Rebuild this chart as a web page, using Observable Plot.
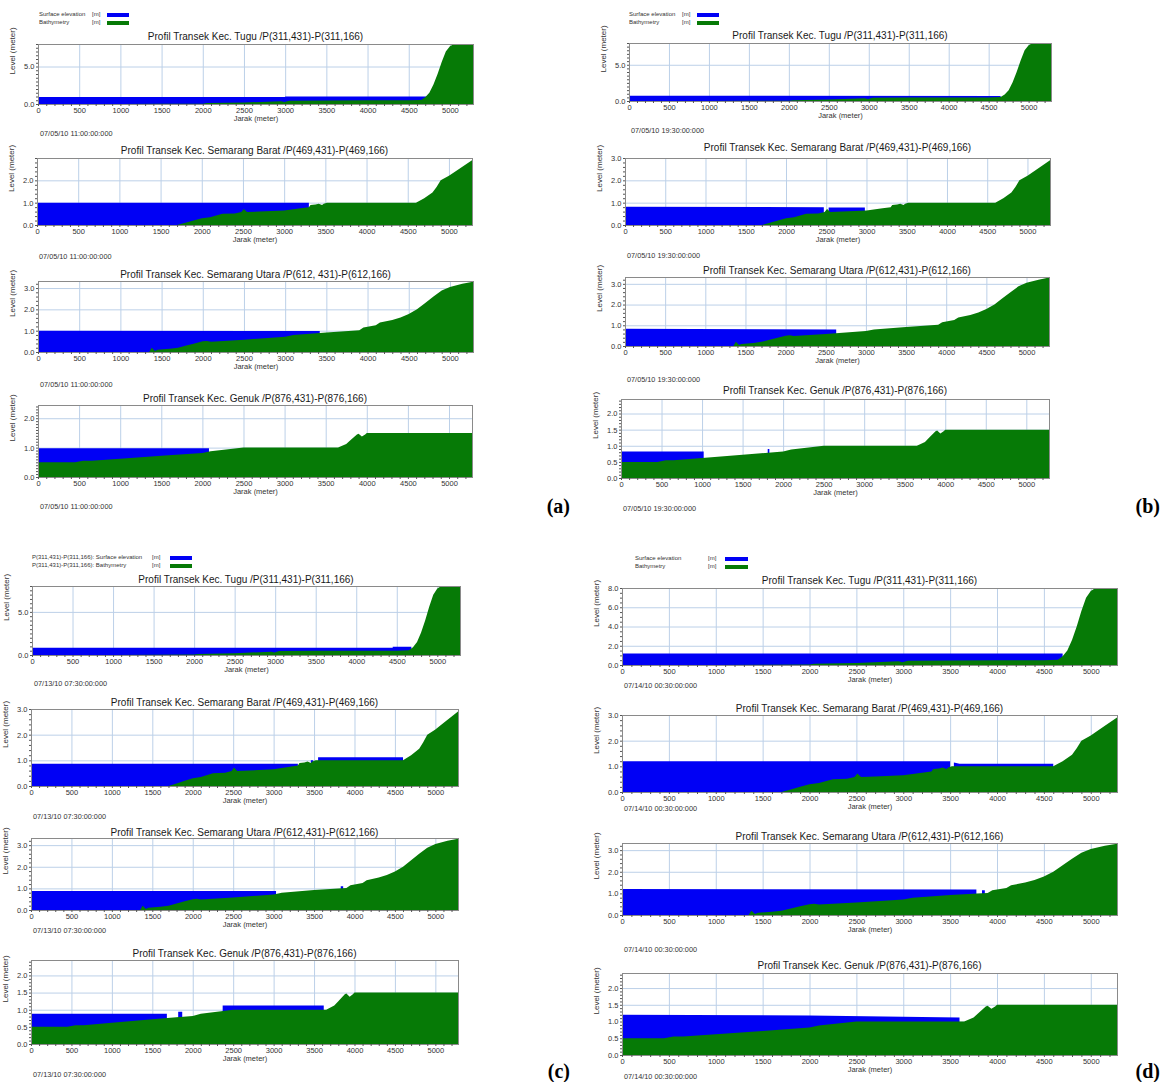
<!DOCTYPE html>
<html>
<head>
<meta charset="utf-8">
<script src="https://cdn.jsdelivr.net/npm/d3@7"></script>
<script src="https://cdn.jsdelivr.net/npm/@observablehq/plot@0.6"></script>
<style>
  html, body { margin: 0; padding: 0; background: #fff; }
  #root { position: relative; width: 1162px; height: 1082px; background: #fff; overflow: hidden;
          font-family: "Liberation Sans", Arial, sans-serif; color: #222; }
  .abs { position: absolute; white-space: nowrap; line-height: 1; }
</style>
</head>
<body>
<div id="root"></div>
<script>
// ---------------- DATA ----------------
// Distance axis (Jarak, meter)
const xMajorTicks = [0, 500, 1000, 1500, 2000, 2500, 3000, 3500, 4000, 4500, 5000];
const xMax = 5280;

// Bathymetry profiles (static)
const tuguX = [0, 500, 1000, 1500, 2000, 2050, 2500, 2950, 2990, 3050, 3500, 4000, 4500, 4650, 4700, 4750, 4800, 4850, 4900, 4950, 5000, 5050, 5280];
const tuguZ = [0.0, 0.0, 0.0, 0.02, 0.05, 0.12, 0.2, 0.38, 0.28, 0.45, 0.48, 0.5, 0.5, 0.55, 0.9, 1.5, 2.6, 4.0, 5.6, 7.0, 7.7, 8.0, 8.0];

const baratX = [0, 1700, 1800, 1900, 2000, 2100, 2250, 2400, 2480, 2510, 2550, 2700, 3000, 3200, 3300, 3320, 3380, 3420, 3460, 3480, 3520, 4600, 4700, 4800, 4850, 4900, 5000, 5100, 5280];
const baratZ = [0, 0, 0.1, 0.2, 0.3, 0.35, 0.5, 0.52, 0.58, 0.72, 0.58, 0.6, 0.65, 0.75, 0.8, 0.9, 0.92, 0.95, 0.9, 0.95, 1.0, 1.0, 1.2, 1.45, 1.7, 2.0, 2.2, 2.45, 2.9];

const utaraX = [0, 1350, 1380, 1420, 1450, 1600, 1700, 1800, 1900, 2000, 2050, 2100, 2500, 3000, 3100, 3500, 3900, 3950, 4100, 4150, 4300, 4400, 4500, 4600, 4700, 4800, 4900, 5000, 5150, 5280];
const utaraZ = [0, 0, 0.2, 0.05, 0.1, 0.15, 0.2, 0.3, 0.4, 0.5, 0.52, 0.48, 0.58, 0.72, 0.8, 0.92, 1.02, 1.15, 1.25, 1.38, 1.5, 1.62, 1.78, 2.0, 2.3, 2.6, 2.88, 3.05, 3.2, 3.3];

const genukX = [0, 450, 550, 650, 1000, 1500, 2000, 2100, 2500, 3650, 3750, 3800, 3880, 3900, 3940, 3980, 4000, 5280];
const genukZ = [0.5, 0.5, 0.55, 0.55, 0.62, 0.72, 0.82, 0.88, 1.0, 1.0, 1.12, 1.25, 1.45, 1.47, 1.38, 1.45, 1.5, 1.5];

// Surface elevation, (a) 07/05/10 11:00
const surfA_tuguX = [0, 3000, 3000, 4720];       const surfA_tuguZ = [0.95, 0.95, 1.0, 1.0];
const surfA_baratX = [0, 3300];                  const surfA_baratZ = [1.0, 1.0];
const surfA_utaraX = [0, 3420];                  const surfA_utaraZ = [1.0, 0.98];
const surfA_genukX = [0, 2080];                  const surfA_genukZ = [0.98, 0.98];
// (b) 07/05/10 19:30
const surfB_tuguX = [0, 4650];                   const surfB_tuguZ = [0.72, 0.7];
const surfB_baratX = [0, 2470, 2480, 2530, 2980]; const surfB_baratZ = [0.82, 0.8, null, 0.78, 0.78];
const surfB_utaraX = [0, 2630];                  const surfB_utaraZ = [0.83, 0.8];
const surfB_genukX = [0, 1020, 1030, 1810, 1830, 1840]; const surfB_genukZ = [0.82, 0.82, null, 0.9, 0.9, null];
// (c) 07/13/10 07:30
const surfC_tuguX = [0, 4450, 4450, 4680];       const surfC_tuguZ = [0.85, 0.85, 0.95, 0.95];
const surfC_baratX = [0, 3300, 3310, 3460, 3490, 3500, 3550, 4600]; const surfC_baratZ = [0.87, 0.87, null, 1.0, 1.0, null, 1.12, 1.12];
const surfC_utaraX = [0, 3030, 3040, 3830, 3860, 3870]; const surfC_utaraZ = [0.88, 0.88, null, 1.1, 1.1, null];
const surfC_genukX = [0, 1680, 1690, 1820, 1870, 1880, 2370, 3620]; const surfC_genukZ = [0.88, 0.88, null, 0.94, 0.94, null, 1.12, 1.12];
// (d) 07/14/10 00:30
const surfD_tuguX = [0, 4700];                   const surfD_tuguZ = [1.2, 1.2];
const surfD_baratX = [0, 3500, 3510, 3540, 3600, 4600]; const surfD_baratZ = [1.2, 1.2, null, 1.15, 1.1, 1.1];
const surfD_utaraX = [0, 3780, 3790, 3840, 3870, 3880]; const surfD_utaraZ = [1.2, 1.18, null, 1.15, 1.15, null];
const surfD_genukX = [0, 2000, 3600];            const surfD_genukZ = [1.2, 1.18, 1.12];

// Tick labels
const yTicksTugu = [0, 5];
const yTicksTuguD = [0, 2, 4, 6, 8];
const yTicks3 = [0, 1, 2];
const yTicks4 = [0, 1, 2, 3];
const yTicksGenuk = [0, 0.5, 1, 1.5, 2];

const titleTugu = "Profil Transek Kec. Tugu /P(311,431)-P(311,166)";
const titleBarat = "Profil Transek Kec. Semarang Barat /P(469,431)-P(469,166)";
const titleUtaraA = "Profil Transek Kec. Semarang Utara /P(612, 431)-P(612,166)";
const titleUtara = "Profil Transek Kec. Semarang Utara /P(612,431)-P(612,166)";
const titleGenuk = "Profil Transek Kec. Genuk /P(876,431)-P(876,166)";

const dates = ["07/05/10 11:00:00:000", "07/05/10 19:30:00:000", "07/13/10 07:30:00:000", "07/14/10 00:30:00:000"];
const panelLabels = ["(a)", "(b)", "(c)", "(d)"];
const legendPrefixC = "P(311,431)-P(311,166): ";

// ---------------- STYLE / LAYOUT ----------------
const BLUE = "#0000f5";
const GREEN = "#067a06";
const GRID = "#bcd0e8";
const zipPts = (xs, zs) => xs.map((x, i) => ({x, z: zs[i]}));

const transects = {
  tugu:  {bx: tuguX,  bz: tuguZ,  domain: [0, 8.0], minor: 0.5},
  barat: {bx: baratX, bz: baratZ, domain: [0, 3.0], minor: 0.2},
  utara: {bx: utaraX, bz: utaraZ, domain: [0, 3.33], minor: 0.2},
  genuk: {bx: genukX, bz: genukZ, domain: [0, 2.45], minor: 0.1}
};

const layout = [
  { // (a)
    legend: {x: 39, y: 12, mx: 92, sx: 107, sw: 22, prefix: ""},
    label: {x: 570, y: 496},
    charts: [
      {t: "tugu",  L: 38,  R: 473, T: 44,  B: 104, ty: 37,  dy: 134, title: titleTugu,  sx: surfA_tuguX,  sz: surfA_tuguZ,  yt: yTicksTugu},
      {t: "barat", L: 37,  R: 472, T: 158, B: 225, ty: 151, dy: 257, title: titleBarat, sx: surfA_baratX, sz: surfA_baratZ, yt: yTicks3},
      {t: "utara", L: 38,  R: 473, T: 281, B: 352, ty: 275, dy: 385, title: titleUtaraA, sx: surfA_utaraX, sz: surfA_utaraZ, yt: yTicks4},
      {t: "genuk", L: 38,  R: 472, T: 405, B: 477, ty: 399, dy: 507, title: titleGenuk, sx: surfA_genukX, sz: surfA_genukZ, yt: yTicks3}
    ]
  },
  { // (b)
    legend: {x: 629, y: 12, mx: 682, sx: 697, sw: 22, prefix: ""},
    label: {x: 1160, y: 496},
    charts: [
      {t: "tugu",  L: 629, R: 1051, T: 43,  B: 101, ty: 36,  dy: 131, title: titleTugu,  sx: surfB_tuguX,  sz: surfB_tuguZ,  yt: yTicksTugu},
      {t: "barat", L: 625, R: 1050, T: 158, B: 225, ty: 148, dy: 256, title: titleBarat, sx: surfB_baratX, sz: surfB_baratZ, yt: yTicks4},
      {t: "utara", L: 625, R: 1049, T: 277, B: 346, ty: 271, dy: 380, title: titleUtara, sx: surfB_utaraX, sz: surfB_utaraZ, yt: yTicks4},
      {t: "genuk", L: 621, R: 1049, T: 399, B: 478, ty: 391, dy: 509, title: titleGenuk, sx: surfB_genukX, sz: surfB_genukZ, yt: yTicksGenuk}
    ]
  },
  { // (c)
    legend: {x: 32, y: 555, mx: 152, sx: 170, sw: 22, prefix: legendPrefixC},
    label: {x: 570, y: 1061},
    charts: [
      {t: "tugu",  L: 32, R: 460, T: 586, B: 655,  ty: 580,  dy: 684,  title: titleTugu,  sx: surfC_tuguX,  sz: surfC_tuguZ,  yt: yTicksTugu},
      {t: "barat", L: 31, R: 458, T: 709, B: 786,  ty: 703,  dy: 817,  title: titleBarat, sx: surfC_baratX, sz: surfC_baratZ, yt: yTicks4},
      {t: "utara", L: 31, R: 458, T: 838, B: 910,  ty: 833,  dy: 931,  title: titleUtara, sx: surfC_utaraX, sz: surfC_utaraZ, yt: yTicks4},
      {t: "genuk", L: 31, R: 458, T: 960, B: 1044, ty: 954,  dy: 1075, title: titleGenuk, sx: surfC_genukX, sz: surfC_genukZ, yt: yTicksGenuk}
    ]
  },
  { // (d)
    legend: {x: 635, y: 556, mx: 708, sx: 725, sw: 23, prefix: ""},
    label: {x: 1160, y: 1061},
    charts: [
      {t: "tugu",  L: 622, R: 1117, T: 588, B: 665,  ty: 581,  dy: 686,  title: titleTugu,  sx: surfD_tuguX,  sz: surfD_tuguZ,  yt: yTicksTuguD},
      {t: "barat", L: 622, R: 1117, T: 715, B: 792,  ty: 709,  dy: 809,  title: titleBarat, sx: surfD_baratX, sz: surfD_baratZ, yt: yTicks4},
      {t: "utara", L: 622, R: 1117, T: 843, B: 915,  ty: 837,  dy: 950,  title: titleUtara, sx: surfD_utaraX, sz: surfD_utaraZ, yt: yTicks4},
      {t: "genuk", L: 622, R: 1117, T: 973, B: 1055, ty: 966,  dy: 1077, title: titleGenuk, sx: surfD_genukX, sz: surfD_genukZ, yt: yTicksGenuk}
    ]
  }
];

const root = document.getElementById("root");
function addText(txt, x, y, size, opts = {}) {
  const d = document.createElement("div");
  d.className = "abs";
  d.textContent = txt;
  d.style.fontSize = size + "px";
  d.style.top = (y - size / 2) + "px";
  if (opts.center) { d.style.left = x + "px"; d.style.transform = "translateX(-50%)"; }
  else if (opts.right) { d.style.right = (1162 - x) + "px"; }
  else d.style.left = x + "px";
  if (opts.color) d.style.color = opts.color;
  if (opts.font) d.style.fontFamily = opts.font;
  if (opts.weight) d.style.fontWeight = opts.weight;
  root.appendChild(d);
  return d;
}
function addBox(x, y, w, h, color) {
  const d = document.createElement("div");
  d.className = "abs";
  Object.assign(d.style, {left: x + "px", top: y + "px", width: w + "px", height: h + "px", background: color});
  root.appendChild(d);
}

const mL = 34, mR = 4, mT = 3, mB = 24;
const xMinorTicks = d3.range(0, xMax + 1, 100);

function makeChart(c) {
  const tr = transects[c.t];
  const bathy = zipPts(tr.bx, tr.bz);
  const water = zipPts(c.sx, c.sz);
  const yMinor = d3.range(0, tr.domain[1] + 1e-9, tr.minor);
  const w = c.R - c.L + mL + mR, h = c.B - c.T + mT + mB;
  const svg = Plot.plot({
    width: w, height: h,
    marginLeft: mL, marginRight: mR, marginTop: mT, marginBottom: mB,
    x: {domain: [0, xMax]},
    y: {domain: tr.domain},
    style: {fontFamily: "'Liberation Sans', Arial, sans-serif", fontSize: "7.5px", color: "#333", background: "transparent", overflow: "visible"},
    marks: [
      Plot.gridX(xMajorTicks, {stroke: GRID, strokeOpacity: 1}),
      Plot.gridY(c.yt, {stroke: GRID, strokeOpacity: 1}),
      Plot.areaY(water, {x: "x", y1: 0, y2: "z", fill: BLUE, clip: true}),
      Plot.areaY(bathy, {x: "x", y1: 0, y2: "z", fill: GREEN, clip: true}),
      Plot.frame({stroke: "#8a8a8a"}),
      Plot.axisX(xMinorTicks, {tickSize: 2, tickFormat: () => "", label: null, stroke: "#555"}),
      Plot.axisX(xMajorTicks, {tickSize: 0, tickPadding: 3, tickFormat: d => String(d), label: null, fontSize: 7.5}),
      Plot.axisY(yMinor, {tickSize: 2, tickFormat: () => "", label: null, stroke: "#555"}),
      Plot.axisY(c.yt, {tickSize: 0, tickPadding: 4, tickFormat: ".1f", label: null, fontSize: 7.5}),
      Plot.text(["Jarak (meter)"], {frameAnchor: "bottom", dy: 16, text: d => d, fontSize: 7.5, fill: "#333"}),
      Plot.text(["Level (meter)"], {frameAnchor: "left", dx: -26, rotate: -90, text: d => d, fontSize: 8, fill: "#333"})
    ]
  });
  const holder = document.createElement("div");
  holder.className = "abs";
  holder.style.left = (c.L - mL) + "px";
  holder.style.top = (c.T - mT) + "px";
  holder.appendChild(svg);
  root.appendChild(holder);
  addText(c.title, (c.L + c.R) / 2, c.ty, 10, {center: true, color: "#1a1a1a"});
}

layout.forEach((p, pi) => {
  p.charts.forEach(c => {
    makeChart(c);
    addText(dates[pi], c.L + 2, c.dy, 7.3, {color: "#333"});
  });
  // legend
  const lg = p.legend;
  addText(lg.prefix + "Surface elevation", lg.x, lg.y + 2, 6, {color: "#333"});
  addText(lg.prefix + "Bathymetry", lg.x, lg.y + 10, 6, {color: "#333"});
  addText("[m]", lg.mx, lg.y + 2, 6, {color: "#333"});
  addText("[m]", lg.mx, lg.y + 10, 6, {color: "#333"});
  addBox(lg.sx, lg.y + 1, lg.sw, 4, BLUE);
  addBox(lg.sx, lg.y + 9, lg.sw, 4, GREEN);
  // panel label
  addText(panelLabels[pi], p.label.x, p.label.y + 10, 20, {right: true, font: "'Liberation Serif', 'Times New Roman', serif", weight: "bold", color: "#000"});
});
</script>
</body>
</html>
